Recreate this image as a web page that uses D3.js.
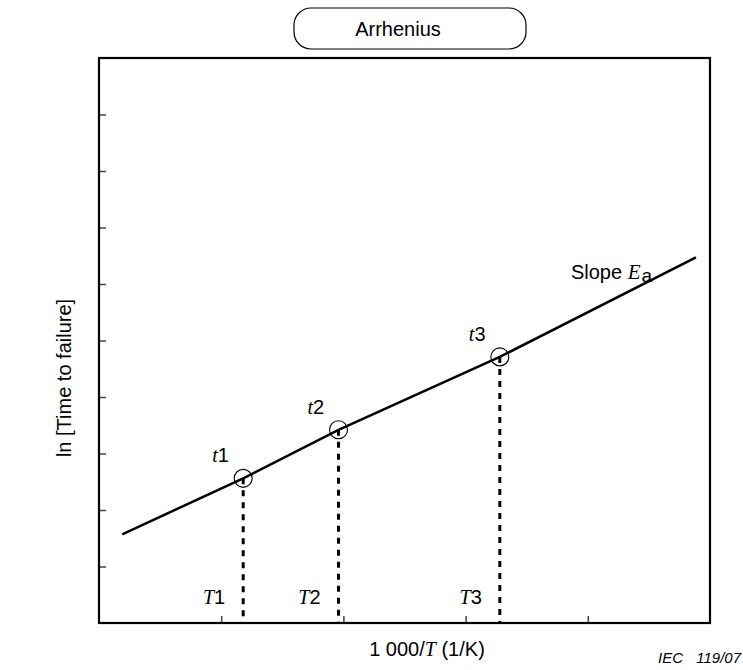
<!DOCTYPE html>
<html>
<head>
<meta charset="utf-8">
<script src="https://cdn.jsdelivr.net/npm/d3@7"></script>
<style>
  body { margin: 0; background: #fff; }
  svg { display: block; }
  text { font-family: "Liberation Sans", Arial, sans-serif; fill: #000; }
  .it { font-family: "Liberation Serif", "Times New Roman", serif; font-style: italic; }
</style>
</head>
<body>
<svg id="chart" width="743" height="670"></svg>
<script>
// axis ticks (no labels on the original)
const xTicks = [1, 2, 3, 4];
const yTicks = [1, 2, 3, 4, 5, 6, 7, 8, 9];

// fitted Arrhenius line, in axis units
const fitLine = [
  { x: 0.19, y: 1.57 },
  { x: 1.18, y: 2.56 },
  { x: 1.96, y: 3.42 },
  { x: 3.28, y: 4.71 },
  { x: 4.885, y: 6.47 }
];

// test points t1..t3 at temperatures T1..T3
const pointNames = ["1", "2", "3"];
const pointX = [1.18, 1.96, 3.28];
const pointY = [2.56, 3.42, 4.71];

const width = 743, height = 670;
const margin = { top: 58, right: 33, bottom: 47, left: 99 };

const svg = d3.select("#chart");

const x = d3.scaleLinear().domain([0, 5]).range([margin.left, width - margin.right]);
const y = d3.scaleLinear().domain([0, 10]).range([height - margin.bottom, margin.top]);

const points = pointNames.map((n, i) => ({ name: n, x: pointX[i], y: pointY[i] }));

// ticks point inward
svg.append("g")
  .attr("transform", `translate(${margin.left},0)`)
  .call(d3.axisLeft(y).tickValues(yTicks).tickSize(-7).tickFormat(""))
  .call(g => g.select(".domain").remove())
  .call(g => g.selectAll(".tick line").attr("stroke", "#444").attr("stroke-width", 1.5));

svg.append("g")
  .attr("transform", `translate(0,${height - margin.bottom})`)
  .call(d3.axisBottom(x).tickValues(xTicks).tickSize(-7).tickFormat(""))
  .call(g => g.select(".domain").remove())
  .call(g => g.selectAll(".tick line").attr("stroke", "#444").attr("stroke-width", 1.5));

// frame
svg.append("rect")
  .attr("x", x(0)).attr("y", y(10))
  .attr("width", x(5) - x(0)).attr("height", y(0) - y(10))
  .attr("fill", "none").attr("stroke", "#000").attr("stroke-width", 2.2);

// dotted drops to the temperature axis
svg.append("g").selectAll("line")
  .data(points)
  .join("line")
  .attr("x1", d => x(d.x)).attr("x2", d => x(d.x))
  .attr("y1", d => y(d.y)).attr("y2", y(0))
  .attr("stroke", "#000").attr("stroke-width", 3)
  .attr("stroke-dasharray", "6,6");

// the line
svg.append("path")
  .datum(fitLine)
  .attr("fill", "none")
  .attr("stroke", "#000")
  .attr("stroke-width", 2.5)
  .attr("d", d3.line().x(d => x(d.x)).y(d => y(d.y)));

svg.append("g").selectAll("circle")
  .data(points)
  .join("circle")
  .attr("cx", d => x(d.x)).attr("cy", d => y(d.y))
  .attr("r", 9)
  .attr("fill", "none").attr("stroke", "#000").attr("stroke-width", 1.1);

// t labels
const tl = svg.append("g").selectAll("text")
  .data(points)
  .join("text")
  .attr("x", d => x(d.x) - 31)
  .attr("y", d => y(d.y) - 16)
  .attr("font-size", 20);
tl.append("tspan").attr("class", "it").text("t");
tl.append("tspan").text(d => d.name);

// T labels at the bottom
const Tl = svg.append("g").selectAll("text")
  .data(points)
  .join("text")
  .attr("x", d => x(d.x) - 18)
  .attr("y", y(0) - 19)
  .attr("text-anchor", "end")
  .attr("font-size", 20);
Tl.append("tspan").attr("class", "it").text("T");
Tl.append("tspan").text(d => d.name);

// slope label
const last = fitLine[fitLine.length - 1];
const sl = svg.append("text")
  .attr("x", x(last.x) - 125)
  .attr("y", y(last.y) + 22)
  .attr("font-size", 20);
sl.append("tspan").text("Slope ");
sl.append("tspan").attr("class", "it").attr("font-size", 21).text("E");
sl.append("tspan").attr("font-size", 19).attr("dx", 1).attr("dy", 3).text("a");

// title box
svg.append("rect")
  .attr("x", 294).attr("y", 8)
  .attr("width", 232).attr("height", 41)
  .attr("rx", 17)
  .attr("fill", "#fff").attr("stroke", "#000").attr("stroke-width", 1.2);
svg.append("text")
  .attr("x", 398).attr("y", 36)
  .attr("text-anchor", "middle")
  .attr("font-size", 20)
  .text("Arrhenius");

// axis titles
const xt = svg.append("text")
  .attr("x", 427).attr("y", 656)
  .attr("text-anchor", "middle")
  .attr("font-size", 20);
xt.append("tspan").text("1 000/");
xt.append("tspan").attr("class", "it").text("T");
xt.append("tspan").text(" (1/K)");

svg.append("text")
  .attr("transform", "translate(71,378) rotate(-90)")
  .attr("text-anchor", "middle")
  .attr("font-size", 20)
  .text("ln [Time to failure]");

// figure reference
svg.append("text")
  .attr("x", 658).attr("y", 663)
  .attr("font-size", 15)
  .attr("font-style", "italic")
  .text("IEC");
svg.append("text")
  .attr("x", 741).attr("y", 663)
  .attr("text-anchor", "end")
  .attr("font-size", 15)
  .attr("font-style", "italic")
  .text("119/07");
</script>
</body>
</html>
